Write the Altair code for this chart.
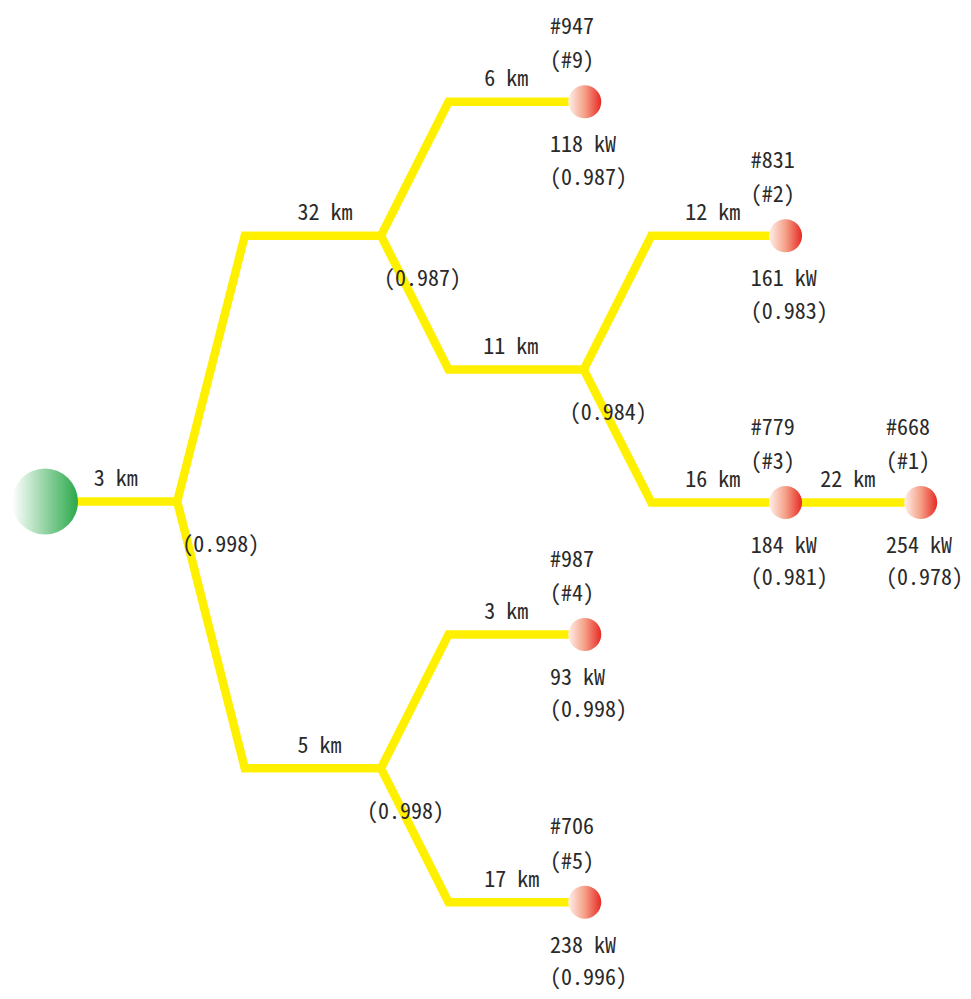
import altair as alt
import pandas as pd

# ---- tree structure (layout positions in page pixels) ----
node_names = ["root", "J1", "J2", "J4", "J3", "N947", "N831", "N779", "N668", "N987", "N706"]
node_x = [45, 178, 383, 383, 587, 588, 790, 790, 926, 588, 588]
node_y = [502, 502, 232, 773, 368, 96, 232, 503, 503, 637, 909]

edge_parent = ["root", "J1", "J1", "J2", "J2", "J3", "J3", "N779", "J4", "J4"]
edge_child = ["J1", "J2", "J4", "N947", "J3", "N831", "N779", "N668", "N987", "N706"]
edge_km = [3, 32, 5, 6, 11, 12, 16, 22, 3, 17]

junction_names = ["J1", "J2", "J3", "J4"]
junction_rel = ["0.998", "0.987", "0.984", "0.998"]
junction_label_dx = [5, 3, -14, -14]

load_names = ["N947", "N831", "N779", "N668", "N987", "N706"]
load_ids = ["#947", "#831", "#779", "#668", "#987", "#706"]
load_rank = ["#9", "#2", "#3", "#1", "#4", "#5"]
load_kw = [118, 161, 184, 254, 93, 238]
load_rel = ["0.987", "0.983", "0.981", "0.978", "0.998", "0.996"]

pos = {n: (x, y) for n, x, y in zip(node_names, node_x, node_y)}
depth = {"root": 0}
for p, c in zip(edge_parent, edge_child):
    depth[c] = depth[p] + 1

# ---- line geometry ----
line_rows = []
for i, (p, c) in enumerate(zip(edge_parent, edge_child)):
    px, py = pos[p]
    cx, cy = pos[c]
    pts = [(px, py)]
    if py != cy:
        pts.append((px + 68, cy))
    pts.append((cx, cy))
    for k, (x, y) in enumerate(pts):
        line_rows.append({"edge": i, "k": k, "x": x, "y": y})
lines_df = pd.DataFrame(line_rows)

# ---- edge labels ----
elab = []
for p, c, km in zip(edge_parent, edge_child, edge_km):
    cx, cy = pos[c]
    off = 84 if depth[c] <= 2 else 101
    elab.append({"x": cx - off, "y": cy - 23, "t": f"{km} km"})
elab_df = pd.DataFrame(elab)

# ---- junction labels ----
jlab_df = pd.DataFrame([
    {"x": pos[n][0] + dx, "y": pos[n][1] + 44, "t": f"({r})"}
    for n, r, dx in zip(junction_names, junction_rel, junction_label_dx)
])

# ---- load labels ----
llab = []
for n, i_, r_, kw, rel in zip(load_names, load_ids, load_rank, load_kw, load_rel):
    x, y = pos[n]
    llab += [
        {"x": x - 35, "y": y - 76, "t": i_},
        {"x": x - 35, "y": y - 41, "t": f"({r_})"},
        {"x": x - 35, "y": y + 44, "t": f"{kw} kW"},
        {"x": x - 35, "y": y + 77, "t": f"({rel})"},
    ]
llab_df = pd.DataFrame(llab)

root_df = pd.DataFrame([{"x": pos["root"][0], "y": pos["root"][1]}])
load_df = pd.DataFrame([{"x": pos[n][0], "y": pos[n][1]} for n in load_names])

X = alt.X("x:Q", scale=alt.Scale(domain=[7.8, 968.5]), axis=None)
Y = alt.Y("y:Q", scale=alt.Scale(domain=[999.2, 0.7]), axis=None)

FONT = "Noto Sans Mono CJK JP"
TXT = "#2a2a2a"

lines = alt.Chart(lines_df).mark_line(
    color="#FFF000", strokeWidth=8.5, strokeJoin="miter", strokeCap="butt"
).encode(x=X, y=Y, detail="edge:N", order="k:Q")

green = alt.LinearGradient(
    gradient="linear", x1=0, y1=0, x2=1, y2=0,
    stops=[alt.GradientStop(offset=0, color="#ffffff"),
           alt.GradientStop(offset=1, color="#2aa84a")],
)
red = alt.LinearGradient(
    gradient="linear", x1=0, y1=0, x2=1, y2=0,
    stops=[alt.GradientStop(offset=0, color="#fef0ea"),
           alt.GradientStop(offset=0.5, color="#f5a088"),
           alt.GradientStop(offset=1, color="#e62a24")],
)

root = alt.Chart(root_df).mark_point(
    shape="circle", filled=True, fill=green, fillOpacity=1, strokeWidth=0, size=4356
).encode(x=X, y=Y)

loads = alt.Chart(load_df).mark_point(
    shape="circle", filled=True, fill=red, fillOpacity=1, strokeWidth=0, size=1089
).encode(x=X, y=Y)

def texts(df):
    return alt.Chart(df).mark_text(
        font=FONT, fontSize=22, color=TXT, align="left", baseline="middle"
    ).encode(x=X, y=Y, text="t:N")

chart = alt.layer(
    lines, root, loads, texts(elab_df), texts(jlab_df), texts(llab_df)
).properties(
    width=955, height=983, autosize=alt.AutoSizeParams(type="none"), padding=0,
    background="white",
).configure_view(stroke=None)

chart.save("out.html", embed_options={"renderer": "svg", "actions": False})
